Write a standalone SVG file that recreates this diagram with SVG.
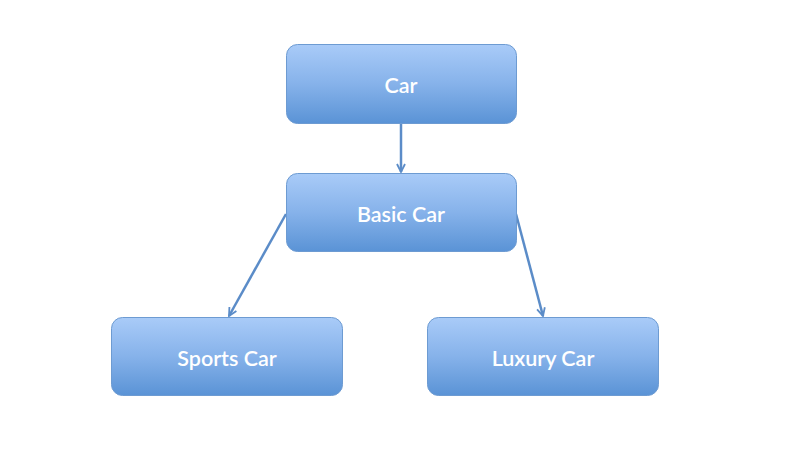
<svg xmlns="http://www.w3.org/2000/svg" width="800" height="464" viewBox="0 0 800 464">
<defs>
<linearGradient id="g" x1="0" y1="0" x2="0" y2="1">
<stop offset="0" stop-color="#a9cbf8"/>
<stop offset="0.5" stop-color="#86b2ea"/>
<stop offset="1" stop-color="#5a93d6"/>
</linearGradient>
<marker id="ah" viewBox="0 0 10 10" refX="9" refY="5" markerWidth="10" markerHeight="10" markerUnits="userSpaceOnUse" orient="auto">
<path d="M1,1 L9,5 L1,9" fill="none" stroke="#5b8cc8" stroke-width="1.8"/>
</marker>
<style>
.box{fill:url(#g);stroke:#6d9bd2;stroke-width:1}
.lbl{font-family:"Lato","Open Sans",sans-serif;font-weight:600;font-size:21.5px;fill:#ffffff;text-anchor:middle}
.con{stroke:#5b8cc8;stroke-width:2.5;fill:none;marker-end:url(#ah)}
</style>
</defs>
<rect width="800" height="464" fill="#ffffff"/>
<g id="connectors">
<line class="con" x1="401" y1="123" x2="401" y2="172"/>
<line class="con" x1="286" y1="214" x2="229" y2="316"/>
<line class="con" x1="516" y1="214" x2="543" y2="316"/>
</g>
<g id="car">
<rect class="box" x="286.5" y="44.5" width="230" height="79" rx="11"/>
<text class="lbl" x="401" y="93">Car</text>
</g>
<g id="basic-car">
<rect class="box" x="286.5" y="173.5" width="230" height="78" rx="11"/>
<text class="lbl" x="401" y="222">Basic Car</text>
</g>
<g id="sports-car">
<rect class="box" x="111.5" y="317.5" width="231" height="78" rx="11"/>
<text class="lbl" x="227" y="366">Sports Car</text>
</g>
<g id="luxury-car">
<rect class="box" x="427.5" y="317.5" width="231" height="78" rx="11"/>
<text class="lbl" x="543" y="366">Luxury Car</text>
</g>
</svg>
